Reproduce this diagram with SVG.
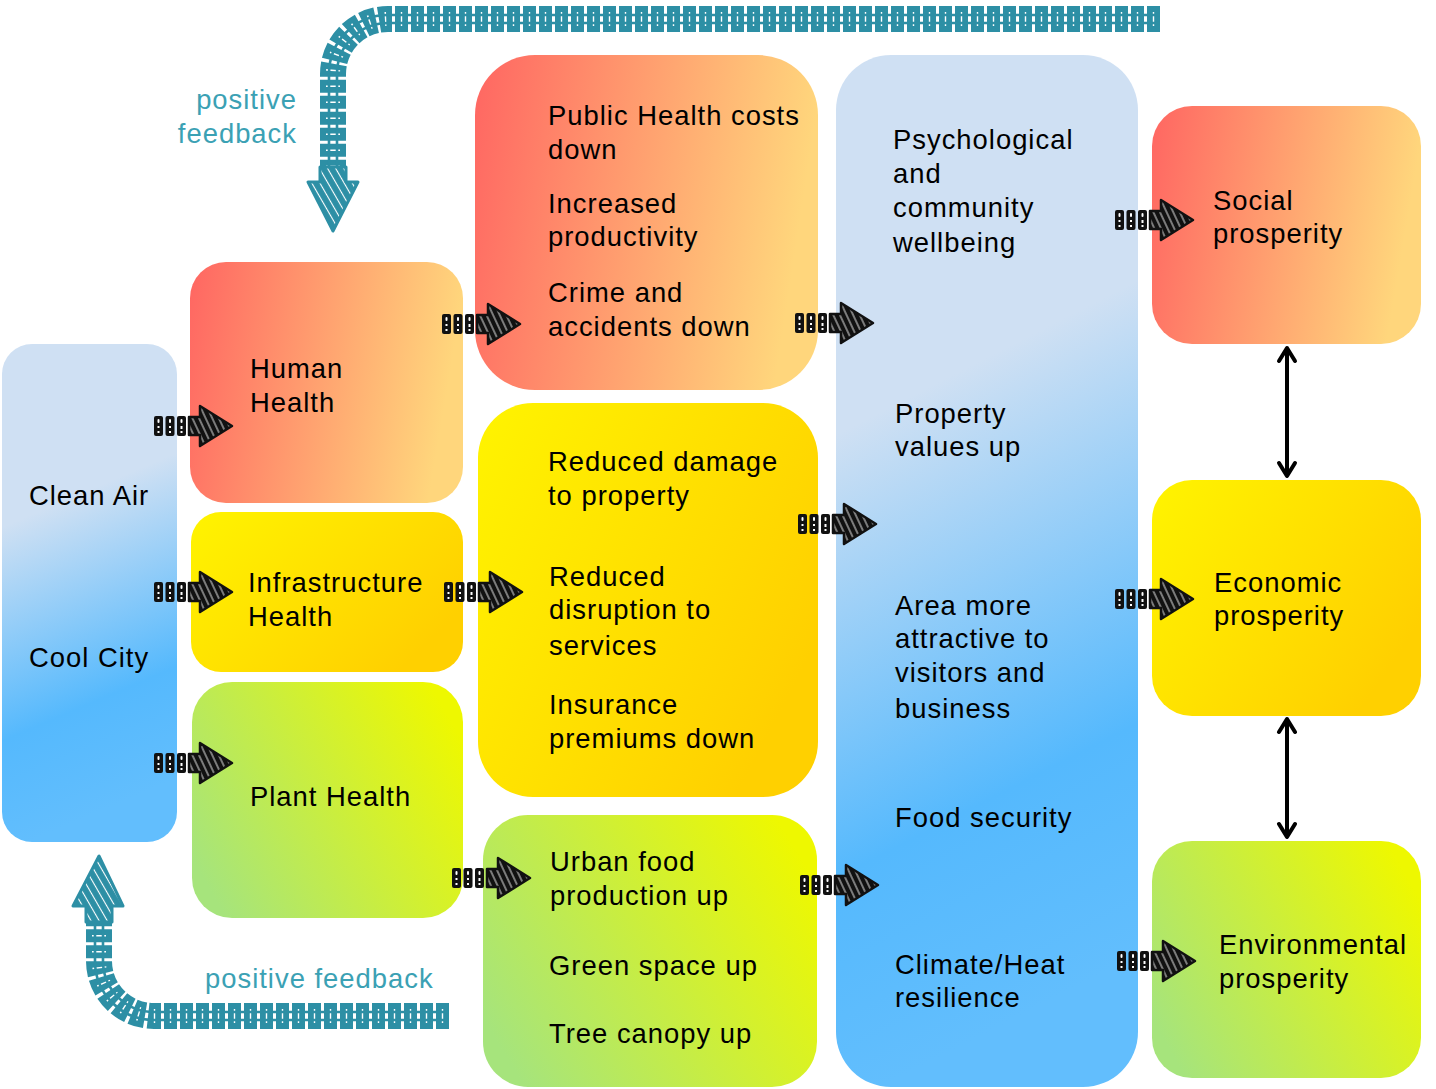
<svg xmlns="http://www.w3.org/2000/svg" xmlns:xlink="http://www.w3.org/1999/xlink" width="1436" height="1089" viewBox="0 0 1436 1089">
<defs>
<style>
.t{font-family:"Liberation Sans",Arial,Helvetica,sans-serif;font-size:27.4px;letter-spacing:1px;fill:#000}
.fb{font-family:"Liberation Sans",Arial,Helvetica,sans-serif;font-size:27.4px;letter-spacing:1px;fill:#3ba1b4}
.chain{fill:none;stroke:#2d8fa5;stroke-width:26;stroke-dasharray:13 3}
.dots{fill:none;stroke:#fff;stroke-width:14;stroke-dasharray:0 5.8 1.4 8.8}
.cut{fill:none;stroke:#2d8fa5;stroke-width:2.6}
.dbl{fill:none;stroke:#000;stroke-width:4;stroke-linecap:round;stroke-linejoin:round}
</style>
<linearGradient id="gRed" x1="0" y1="0" x2="1" y2="0.15">
<stop offset="0" stop-color="#ff6662"/><stop offset="1" stop-color="#ffd67c"/>
</linearGradient>
<linearGradient id="gYel" x1="0" y1="0" x2="1" y2="0.6">
<stop offset="0" stop-color="#fff400"/><stop offset="1" stop-color="#ffd000"/>
</linearGradient>
<linearGradient id="gGrn" x1="0" y1="0.75" x2="1" y2="0.25">
<stop offset="0" stop-color="#a6e47c"/><stop offset="1" stop-color="#eef800"/>
</linearGradient>
<linearGradient id="gBlue" x1="0" y1="0" x2="0.15" y2="1">
<stop offset="0" stop-color="#cfe0f3"/><stop offset="0.36" stop-color="#cfe0f3"/><stop offset="0.78" stop-color="#55b9fd"/><stop offset="1" stop-color="#62befd"/>
</linearGradient>
<pattern id="hatch" width="6" height="6" patternUnits="userSpaceOnUse" patternTransform="rotate(65)">
<rect width="6" height="6" fill="#111"/>
<line x1="0" y1="3" x2="6" y2="3" stroke="#fff" stroke-width="0.9"/>
</pattern>
<pattern id="thatch" width="7" height="7" patternUnits="userSpaceOnUse" patternTransform="rotate(60)">
<rect width="7" height="7" fill="#2d8fa5"/>
<line x1="0" y1="3.5" x2="7" y2="3.5" stroke="#fff" stroke-width="1.1"/>
</pattern>
<g id="arr">
<rect x="1" y="-10" width="9" height="20" rx="2" fill="#111"/>
<rect x="12.5" y="-10" width="9" height="20" rx="2" fill="#111"/>
<rect x="24" y="-10" width="9" height="20" rx="2" fill="#111"/>
<g fill="#fff">
<rect x="4.5" y="-7" width="2" height="4" rx="1"/><rect x="4.5" y="0" width="2" height="2"/><rect x="4.5" y="5" width="2" height="2"/>
<rect x="16" y="-7" width="2" height="4" rx="1"/><rect x="16" y="0" width="2" height="2"/><rect x="16" y="5" width="2" height="2"/>
<rect x="27.5" y="-7" width="2" height="4" rx="1"/><rect x="27.5" y="0" width="2" height="3"/><rect x="27.5" y="5" width="2" height="2"/>
</g>
<polygon points="36,-9 47,-9 47,-20 79,0 47,20 47,9 36,9" fill="url(#hatch)" stroke="#111" stroke-width="2.5" stroke-linejoin="round"/>
</g>
</defs>

<g id="clean-air-cool-city">
<rect x="2" y="344" width="175" height="498" rx="30" fill="url(#gBlue)"/>
<text class="t" x="29" y="505">Clean Air</text>
<text class="t" x="29" y="667">Cool City</text>
</g>

<g id="human-health">
<rect x="190" y="262" width="273" height="241" rx="36" fill="url(#gRed)"/>
<text class="t" x="250" y="378">Human</text>
<text class="t" x="250" y="412">Health</text>
</g>

<g id="infrastructure-health">
<rect x="191" y="512" width="272" height="160" rx="30" fill="url(#gYel)"/>
<text class="t" x="248" y="592">Infrastructure</text>
<text class="t" x="248" y="626">Health</text>
</g>

<g id="plant-health">
<rect x="192" y="682" width="271" height="236" rx="40" fill="url(#gGrn)"/>
<text class="t" x="250" y="806">Plant Health</text>
</g>

<g id="health-outcomes">
<rect x="475" y="55" width="343" height="335" rx="60" fill="url(#gRed)"/>
<text class="t" x="548" y="125">Public Health costs</text>
<text class="t" x="548" y="159">down</text>
<text class="t" x="548" y="213">Increased</text>
<text class="t" x="548" y="246">productivity</text>
<text class="t" x="548" y="302">Crime and</text>
<text class="t" x="548" y="336">accidents down</text>
</g>

<g id="infrastructure-outcomes">
<rect x="478" y="403" width="340" height="394" rx="55" fill="url(#gYel)"/>
<text class="t" x="548" y="471">Reduced damage</text>
<text class="t" x="548" y="505">to property</text>
<text class="t" x="549" y="586">Reduced</text>
<text class="t" x="549" y="619">disruption to</text>
<text class="t" x="549" y="655">services</text>
<text class="t" x="549" y="714">Insurance</text>
<text class="t" x="549" y="748">premiums down</text>
</g>

<g id="plant-outcomes">
<rect x="483" y="815" width="334" height="272" rx="45" fill="url(#gGrn)"/>
<text class="t" x="550" y="871">Urban food</text>
<text class="t" x="550" y="905">production up</text>
<text class="t" x="549" y="975">Green space up</text>
<text class="t" x="549" y="1043">Tree canopy up</text>
</g>

<g id="community-benefits">
<rect x="836" y="55" width="302" height="1032" rx="55" fill="url(#gBlue)"/>
<text class="t" x="893" y="149">Psychological</text>
<text class="t" x="893" y="183">and</text>
<text class="t" x="893" y="217">community</text>
<text class="t" x="893" y="252">wellbeing</text>
<text class="t" x="895" y="423">Property</text>
<text class="t" x="895" y="456">values up</text>
<text class="t" x="895" y="615">Area more</text>
<text class="t" x="895" y="648">attractive to</text>
<text class="t" x="895" y="682">visitors and</text>
<text class="t" x="895" y="718">business</text>
<text class="t" x="895" y="827">Food security</text>
<text class="t" x="895" y="974">Climate/Heat</text>
<text class="t" x="895" y="1007">resilience</text>
</g>

<g id="social-prosperity">
<rect x="1152" y="106" width="269" height="238" rx="40" fill="url(#gRed)"/>
<text class="t" x="1213" y="210">Social</text>
<text class="t" x="1213" y="243">prosperity</text>
</g>

<g id="economic-prosperity">
<rect x="1152" y="480" width="269" height="236" rx="40" fill="url(#gYel)"/>
<text class="t" x="1214" y="592">Economic</text>
<text class="t" x="1214" y="625">prosperity</text>
</g>

<g id="environmental-prosperity">
<rect x="1152" y="841" width="269" height="237" rx="40" fill="url(#gGrn)"/>
<text class="t" x="1219" y="954">Environmental</text>
<text class="t" x="1219" y="988">prosperity</text>
</g>

<g id="connectors">
<use xlink:href="#arr" transform="translate(153,426)"/>
<use xlink:href="#arr" transform="translate(153,592)"/>
<use xlink:href="#arr" transform="translate(153,763)"/>
<use xlink:href="#arr" transform="translate(441,324)"/>
<use xlink:href="#arr" transform="translate(443,592)"/>
<use xlink:href="#arr" transform="translate(451,878)"/>
<use xlink:href="#arr" transform="translate(794,323)"/>
<use xlink:href="#arr" transform="translate(797,524)"/>
<use xlink:href="#arr" transform="translate(799,885)"/>
<use xlink:href="#arr" transform="translate(1114,220)"/>
<use xlink:href="#arr" transform="translate(1114,599)"/>
<use xlink:href="#arr" transform="translate(1116,961)"/>

<path class="dbl" d="M1287,349 L1287,475 M1279,361 L1287,348 L1295,361 M1279,463 L1287,476 L1295,463"/>
<path class="dbl" d="M1287,720 L1287,836 M1279,732 L1287,719 L1295,732 M1279,824 L1287,837 L1295,824"/>

<g id="feedback-top">
<path class="chain" d="M1160,19 L388,19 A55,55 0 0 0 333,74 L333,168"/>
<path class="dots" d="M1160,19 L388,19 A55,55 0 0 0 333,74 L333,168"/>
<path class="cut" d="M1160,15 L388,15 A59,59 0 0 0 329,74 L329,168"/>
<path class="cut" d="M1160,23 L388,23 A51,51 0 0 0 337,74 L337,168"/>
<polygon points="320,167 346,167 346,182 358,182 333,231 308,182 320,182" fill="url(#thatch)" stroke="#2d8fa5" stroke-width="3" stroke-linejoin="round"/>
<text class="fb" x="297" y="109" text-anchor="end">positive</text>
<text class="fb" x="297" y="143" text-anchor="end">feedback</text>
</g>

<g id="feedback-bottom">
<path class="chain" d="M449,1016 L154,1016 A55,55 0 0 1 99,961 L99,921"/>
<path class="dots" d="M449,1016 L154,1016 A55,55 0 0 1 99,961 L99,921"/>
<path class="cut" d="M449,1012 L154,1012 A51,51 0 0 1 103,961 L103,921"/>
<path class="cut" d="M449,1020 L154,1020 A59,59 0 0 1 95,961 L95,921"/>
<polygon points="86,922 112,922 112,906 123,906 99,856 73,906 86,906" fill="url(#thatch)" stroke="#2d8fa5" stroke-width="3" stroke-linejoin="round"/>
<text class="fb" x="205" y="988">positive feedback</text>
</g>
</g>
</svg>
